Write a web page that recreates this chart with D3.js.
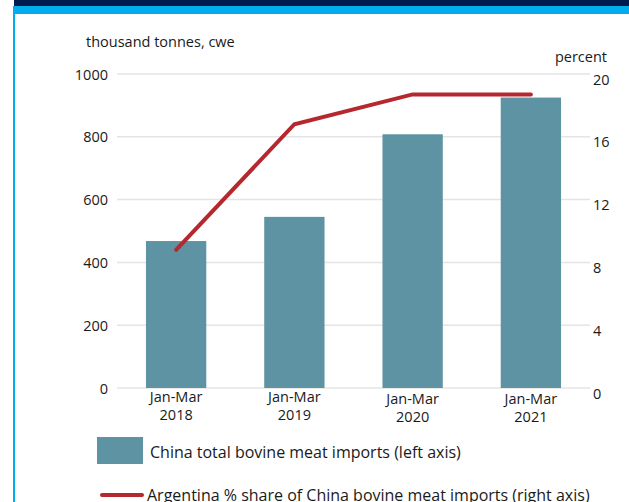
<!DOCTYPE html>
<html>
<head>
<meta charset="utf-8">
<script src="https://d3js.org/d3.v7.min.js"></script>
<style>
  body { margin: 0; background: #fff; }
  text { font-family: "Open Sans", "Noto Sans", sans-serif; fill: #1a1a1a; }
</style>
</head>
<body>
<script>
// data
var periods = ["Jan-Mar 2018", "Jan-Mar 2019", "Jan-Mar 2020", "Jan-Mar 2021"];
var imports = [468, 545, 808, 925];        // thousand tonnes cwe (left axis)
var argShare = [8.8, 16.8, 18.7, 18.7];    // percent (right axis)
var leftTicks = [0, 200, 400, 600, 800, 1000];
var rightTicks = [0, 4, 8, 12, 16, 20];

var W = 629, H = 502;
var svg = d3.select("body").append("svg").attr("width", W).attr("height", H);

// frame
svg.append("rect").attr("x", 14).attr("y", 0).attr("width", W - 14).attr("height", 6).attr("fill", "#001b4d");
svg.append("rect").attr("x", 14).attr("y", 6).attr("width", W - 14).attr("height", 8).attr("fill", "#00aeef");
svg.append("rect").attr("x", 13).attr("y", 6).attr("width", 2).attr("height", H - 6).attr("fill", "#00aeef");

var x0 = 117, x1 = 590, yTop = 74, yBot = 388;

var x = d3.scaleBand().domain(periods).range([x0, x1]).paddingInner(0.49).paddingOuter(0.245);
var yL = d3.scaleLinear().domain([0, 1000]).range([yBot, yTop]);
var yR = d3.scaleLinear().domain([0, 20]).range([yBot, yTop]);

// gridlines
svg.append("g").selectAll("line").data(leftTicks).enter().append("line")
  .attr("x1", x0).attr("x2", x1)
  .attr("y1", d => yL(d)).attr("y2", d => yL(d))
  .attr("stroke", "#e4e4e4").attr("stroke-width", 1.5);

// left tick labels
svg.append("g").selectAll("text").data(leftTicks).enter().append("text")
  .attr("x", 108).attr("y", d => yL(d) + 5.5)
  .attr("text-anchor", "end").attr("font-size", "14.5px")
  .text(d => d);

// right tick labels
svg.append("g").selectAll("text").data(rightTicks).enter().append("text")
  .attr("x", 593).attr("y", d => yR(d) + 10.5)
  .attr("text-anchor", "start").attr("font-size", "14.5px")
  .text(d => d);

svg.append("text").attr("x", 86).attr("y", 47).attr("font-size", "14.5px").text("thousand tonnes, cwe");
svg.append("text").attr("x", 607).attr("y", 62).attr("text-anchor", "end").attr("font-size", "14.5px").text("percent");

// bars
svg.append("g").selectAll("rect").data(periods).enter().append("rect")
  .attr("x", d => x(d)).attr("width", x.bandwidth())
  .attr("y", (d, i) => yL(imports[i])).attr("height", (d, i) => yBot - yL(imports[i]))
  .attr("fill", "#5d93a2");

// line
var line = d3.line().x((d, i) => x(periods[i]) + x.bandwidth() / 2).y(d => yR(d));
svg.append("path").datum(argShare).attr("d", line)
  .attr("fill", "none").attr("stroke", "#b5282e").attr("stroke-width", 4)
  .attr("stroke-linecap", "round").attr("stroke-linejoin", "miter");

// x labels (two lines each)
var xg = svg.append("g").selectAll("g").data(periods).enter().append("g")
  .attr("transform", (d, i) => "translate(" + (x(d) + x.bandwidth() / 2) + "," + (i < 2 ? 402 : 404) + ")");
xg.append("text").attr("text-anchor", "middle").attr("font-size", "14.5px").text(d => d.split(" ")[0]);
xg.append("text").attr("text-anchor", "middle").attr("font-size", "14.5px").attr("y", 18).text(d => d.split(" ")[1]);

// legend
svg.append("rect").attr("x", 97).attr("y", 437).attr("width", 46).attr("height", 27).attr("fill", "#5d93a2");
svg.append("text").attr("x", 150).attr("y", 458).attr("font-size", "16px").text("China total bovine meat imports (left axis)");
svg.append("line").attr("x1", 102).attr("x2", 142).attr("y1", 495).attr("y2", 495)
  .attr("stroke", "#b5282e").attr("stroke-width", 4).attr("stroke-linecap", "round");
svg.append("text").attr("x", 147).attr("y", 501).attr("font-size", "16px").text("Argentina % share of China bovine meat imports (right axis)");
</script>
</body>
</html>
